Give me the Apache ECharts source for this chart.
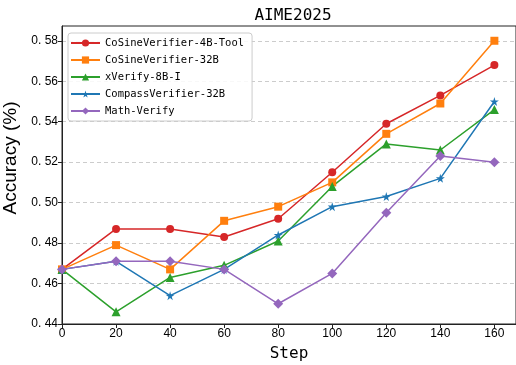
<!DOCTYPE html>
<html><head><meta charset="utf-8">
<script src="https://cdn.jsdelivr.net/npm/echarts@6/dist/echarts.min.js"></script>
<style>html,body{margin:0;padding:0;background:#fff}#c{width:516px;height:365px}</style>
</head><body><div id="c"></div>
<script>
const steps = [0, 20, 40, 60, 80, 100, 120, 140, 160];
const cosine4BTool = [0.467, 0.487, 0.487, 0.483, 0.492, 0.515, 0.539, 0.553, 0.568];
const cosine32B = [0.467, 0.479, 0.467, 0.491, 0.498, 0.510, 0.534, 0.549, 0.580];
const xVerify8B = [0.467, 0.446, 0.463, 0.469, 0.481, 0.508, 0.529, 0.526, 0.546];
const compass32B = [0.467, 0.471, 0.454, 0.467, 0.484, 0.498, 0.503, 0.512, 0.550];
const mathVerify = [0.467, 0.471, 0.471, 0.467, 0.450, 0.465, 0.495, 0.523, 0.520];
const xTicks = [0, 20, 40, 60, 80, 100, 120, 140, 160];
const yTicks = [0.44, 0.46, 0.48, 0.50, 0.52, 0.54, 0.56, 0.58];
const seriesNames = ['CoSineVerifier-4B-Tool', 'CoSineVerifier-32B', 'xVerify-8B-I', 'CompassVerifier-32B', 'Math-Verify'];

const STAR = 'path://M50,0 L61,35 L98,35 L68,57 L79,91 L50,70 L21,91 L32,57 L2,35 L39,35 Z';
const styles = [
  {color: '#d62728', symbol: 'circle', size: 8},
  {color: '#ff7f0e', symbol: 'rect', size: 8},
  {color: '#2ca02c', symbol: 'triangle', size: 9},
  {color: '#1f77b4', symbol: STAR, size: 9},
  {color: '#9467bd', symbol: 'diamond', size: 10}
];
const allData = [cosine4BTool, cosine32B, xVerify8B, compass32B, mathVerify];

const chart = echarts.init(document.getElementById('c'), null, {renderer: 'canvas'});
chart.setOption({
  animation: false,
  backgroundColor: '#fff',
  title: {
    text: 'AIME2025', left: 288, top: 3, textAlign: 'center',
    textStyle: {fontFamily: 'DejaVu Sans Mono', fontSize: 16, fontWeight: 'normal', color: '#000'}
  },
  grid: {left: 62, top: 26, right: 0, bottom: 41, show: true, borderColor: '#222', borderWidth: 1,
    backgroundColor: 'transparent', containLabel: false, outerBoundsMode: 'none'},
  legend: {
    orient: 'vertical', left: 68, top: 33,
    itemWidth: 29, itemHeight: 9, itemGap: 5,
    padding: [4, 8, 4, 2],
    borderColor: '#ccc', borderWidth: 1, borderRadius: 3,
    backgroundColor: 'rgba(255,255,255,0.85)',
    textStyle: {fontFamily: 'DejaVu Sans Mono', fontSize: 10.5, color: '#000', lineHeight: 12},
    data: seriesNames
  },
  xAxis: {
    type: 'value', min: 0, max: 168, interval: 20,
    name: 'Step', nameLocation: 'middle', nameGap: 22,
    nameTextStyle: {fontFamily: 'DejaVu Sans Mono', fontSize: 16, color: '#000'},
    axisLine: {show: true, onZero: false, lineStyle: {color: '#222', width: 1}},
    axisTick: {show: true, length: 4, customValues: xTicks, lineStyle: {color: '#222'}},
    axisLabel: {customValues: xTicks, fontFamily: 'Liberation Sans', fontSize: 12, color: '#000', margin: 4},
    splitLine: {show: false}
  },
  yAxis: {
    type: 'value', min: 0.44, max: 0.5873, interval: 0.02,
    name: 'Accuracy (%)', nameLocation: 'middle', nameGap: 42,
    nameTextStyle: {fontFamily: 'Liberation Sans', fontSize: 19, color: '#000', padding: [0, 0, 0, 34]},
    axisLine: {show: true, onZero: false, lineStyle: {color: '#222', width: 1}},
    axisTick: {show: true, length: 4, customValues: yTicks, lineStyle: {color: '#222'}},
    axisLabel: {customValues: yTicks, fontFamily: 'Liberation Sans', fontSize: 12, color: '#000', margin: 4,
      formatter: v => v.toFixed(2).replace('.', '. ')},
    splitLine: {show: true, lineStyle: {color: '#ccc', type: [4, 3], width: 1}}
  },
  series: seriesNames.map((n, i) => ({
    name: n, type: 'line',
    data: steps.map((s, j) => [s, allData[i][j]]),
    symbol: styles[i].symbol, symbolSize: styles[i].size, showAllSymbol: true,
    itemStyle: {color: styles[i].color},
    lineStyle: {color: styles[i].color, width: 1.5},
    emphasis: {disabled: true}
  }))
});
</script></body></html>
